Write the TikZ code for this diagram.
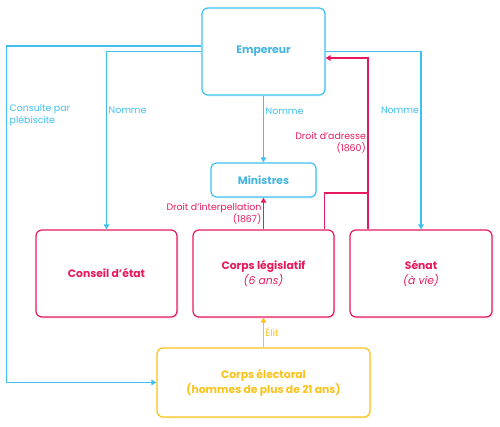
\documentclass[tikz,border=0pt]{standalone}
\usepackage{fontspec}
\setmainfont{Poppins}
\usetikzlibrary{arrows.meta,shadows}
\definecolor{cblue}{HTML}{3FC0F0}
\definecolor{cbluet}{HTML}{45B5E2}
\definecolor{cred}{HTML}{E61A5C}
\definecolor{corange}{HTML}{FBC21A}
\tikzset{
  box/.style={draw, rounded corners=6pt, line width=1.2pt, fill=white, align=center, inner sep=0pt},
  bluebox/.style={box, draw=cblue, text=cbluet, font=\fontsize{10.8}{13}\selectfont\bfseries,
     general shadow={fill=cblue!12, shadow xshift=1.5pt, shadow yshift=-1.5pt}},
  redbox/.style={box, draw=cred, text=cred, font=\fontsize{10.8}{15}\selectfont,
     general shadow={fill=cred!12, shadow xshift=1.5pt, shadow yshift=-1.5pt}},
  orangebox/.style={box, draw=corange, text=corange, font=\fontsize{10.8}{15}\selectfont\bfseries,
     general shadow={fill=corange!15, shadow xshift=1.5pt, shadow yshift=-1.5pt}},
  conn/.style={line width=1.3pt, -{Triangle[length=5pt,width=5.5pt]}},
  bconn/.style={conn, draw=cblue},
  rconn/.style={conn, draw=cred},
  oconn/.style={conn, draw=corange},
  lab/.style={font=\fontsize{9.4}{12}\selectfont, inner sep=1.5pt},
  blab/.style={lab, text=cblue},
  rlab/.style={lab, text=cred, align=right},
  olab/.style={lab, text=corange},
}
\begin{document}
\begin{tikzpicture}[x=1pt,y=-1pt]
\useasboundingbox (0,0) rectangle (500,426);
\node[bluebox, minimum width=123pt, minimum height=87pt] (emp) at (263.5,51.5) {Empereur};
\node[bluebox, minimum width=105pt, minimum height=34pt, rounded corners=5pt] (min) at (263.5,180) {Ministres};
\node[redbox, minimum width=141pt, minimum height=87pt] (cons) at (106.5,273.5) {\textbf{Conseil d'état}};
\node[redbox, minimum width=141pt, minimum height=87pt] (leg) at (263.5,273.5) {\textbf{Corps législatif}\\\textit{(6 ans)}};
\node[redbox, minimum width=142pt, minimum height=87pt] (sen) at (421,273.5) {\textbf{Sénat}\\\textit{(à vie)}};
\node[orangebox, minimum width=213pt, minimum height=69pt] (elec) at (263.5,382.5) {Corps électoral\\(hommes de plus de 21 ans)};

% blue connectors
\draw[bconn] ([yshift=5.5pt]emp.west) -- ++(-195,0) |- (elec.west);
\node[blab, anchor=north west, align=left] (lcons) at (8,103) {Consulte par\\plébiscite};
\draw[bconn] (emp.west) -| (cons.north) node[blab, pos=0.666, anchor=west] (l1) {Nomme};
\draw[bconn] (emp.south) -- (min.north) node[blab, pos=0.235, anchor=west] (l2) {Nomme};
\draw[bconn] (emp.east) -| (sen.north) node[blab, pos=0.666, anchor=east] (l3) {Nomme};

% red connectors
\coordinate (j) at (368,193);
\draw[rconn] ([xshift=-53pt]sen.north) |- ([yshift=-6.5pt]emp.east) node[rlab, pos=0.253, anchor=east] (l4) {Droit d'adresse\\(1860)};
\draw[line width=1.3pt, cred] ([xshift=-10pt]leg.north east) |- (j);
\draw[rconn] (leg.north) -- (min.south) node[rlab, midway, anchor=east] (l5) {Droit d'interpellation\\(1867)};

% orange
\draw[oconn] (elec.north) -- (leg.south) node[olab, midway, anchor=west] (l6) {Élit};
\end{tikzpicture}
\end{document}
